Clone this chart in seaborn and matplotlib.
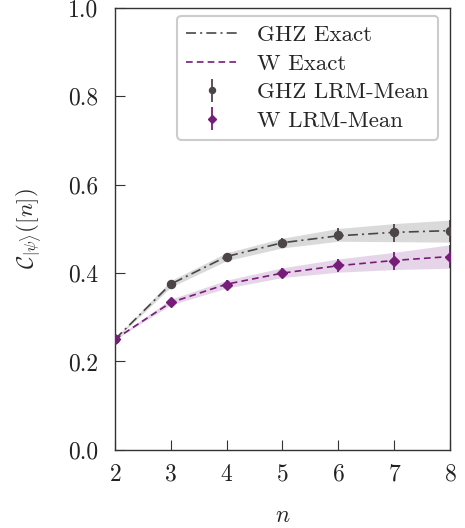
import numpy as np
import pandas as pd
import matplotlib
matplotlib.use("Agg")
import matplotlib.pyplot as plt
import seaborn as sns

# ---- data ----
n_vals = [2, 3, 4, 5, 6, 7, 8]
ghz_exact = [0.25, 0.375, 0.4375, 0.46875, 0.484375, 0.4921875, 0.49609375]
w_exact = [0.25, 0.3333, 0.375, 0.4, 0.4167, 0.4286, 0.4375]
ghz_mean = [0.2504, 0.3756, 0.4367, 0.469, 0.487, 0.4920, 0.4955]
ghz_lower = [0.249, 0.368, 0.428, 0.457, 0.472, 0.471, 0.470]
ghz_upper = [0.252, 0.383, 0.446, 0.479, 0.501, 0.512, 0.520]
w_mean = [0.2504, 0.334, 0.374, 0.400, 0.4186, 0.4276, 0.437]
w_lower = [0.249, 0.328, 0.366, 0.390, 0.402, 0.408, 0.411]
w_upper = [0.252, 0.341, 0.384, 0.412, 0.432, 0.447, 0.464]
y_ticks = [0.0, 0.2, 0.4, 0.6, 0.8, 1.0]
y_tick_labels = ["0.0", "0.2", "0.4", "0.6", "0.8", "1.0"]

GHZ_C = "#4b4547"
W_C = "#761d7a"

sns.set_style("ticks")
plt.rcParams.update({
    "font.family": "serif",
    "font.serif": ["cmr10", "DejaVu Serif"],
    "mathtext.fontset": "cm",
    "axes.formatter.use_mathtext": True,
    "axes.unicode_minus": False,
    "axes.edgecolor": "#333333",
    "axes.linewidth": 1.0,
    "xtick.direction": "in",
    "ytick.direction": "in",
    "xtick.major.size": 7,
    "ytick.major.size": 7,
    "xtick.color": "#333333",
    "ytick.color": "#333333",
    "xtick.labelcolor": "#222222",
    "ytick.labelcolor": "#222222",
})

df = pd.DataFrame({"n": n_vals, "ghz": ghz_exact, "w": w_exact})

fig = plt.figure(figsize=(4.65, 5.28), dpi=100)
ax = fig.add_axes([0.247, 0.148, 0.721, 0.837])

ax.fill_between(n_vals, ghz_lower, ghz_upper, color="#bdbdbd", alpha=0.55, lw=0, zorder=1)
ax.fill_between(n_vals, w_lower, w_upper, color="#c9a3cc", alpha=0.45, lw=0, zorder=1)

sns.lineplot(data=df, x="n", y="ghz", ax=ax, color=GHZ_C, lw=1.2, label="GHZ Exact", zorder=2)
ax.lines[-1].set_linestyle((0, (6, 2.5, 1.2, 2.5)))
sns.lineplot(data=df, x="n", y="w", ax=ax, color=W_C, lw=1.2, label="W Exact", zorder=2)
ax.lines[-1].set_linestyle((0, (4, 2.5)))

ghz_err = [np.array(ghz_mean) - np.array(ghz_lower), np.array(ghz_upper) - np.array(ghz_mean)]
w_err = [np.array(w_mean) - np.array(w_lower), np.array(w_upper) - np.array(w_mean)]
ax.errorbar(n_vals, ghz_mean, yerr=ghz_err, fmt="o", color=GHZ_C, ms=5.8, elinewidth=1.3,
            capsize=0, label="GHZ LRM-Mean", zorder=3)
ax.errorbar(n_vals, w_mean, yerr=w_err, fmt="D", color=W_C, ms=5.5, elinewidth=1.3,
            capsize=0, label="W LRM-Mean", zorder=3)

ax.set_xlim(2, 8)
ax.set_ylim(0, 1)
ax.set_xticks(n_vals)
ax.set_yticks(y_ticks)
ax.set_yticklabels(y_tick_labels)
ax.tick_params(labelsize=17)
ax.tick_params(axis="y", pad=12)
ax.tick_params(axis="x", pad=10)
ax.set_xlabel(r"$n$", fontsize=17, labelpad=14)
ax.set_ylabel(r"$\mathcal{C}_{|\psi\rangle}([n])$", fontsize=16.5, labelpad=17)
for s in ["top", "right"]:
    ax.spines[s].set_visible(True)

handles, labels = ax.get_legend_handles_labels()
order = ["GHZ Exact", "W Exact", "GHZ LRM-Mean", "W LRM-Mean"]
hd = dict(zip(labels, handles))
leg = ax.legend([hd[k] for k in order], order, loc="upper right", bbox_to_anchor=(0.965, 0.982),
                borderaxespad=0,
                fontsize=16.5, frameon=True, fancybox=True, edgecolor="#cccccc",
                framealpha=1, borderpad=0.4, labelspacing=0.37, handlelength=2.2,
                handletextpad=0.9, markerscale=0.75)
leg.get_frame().set_linewidth(1.5)

fig.savefig("out.png", dpi=100)
